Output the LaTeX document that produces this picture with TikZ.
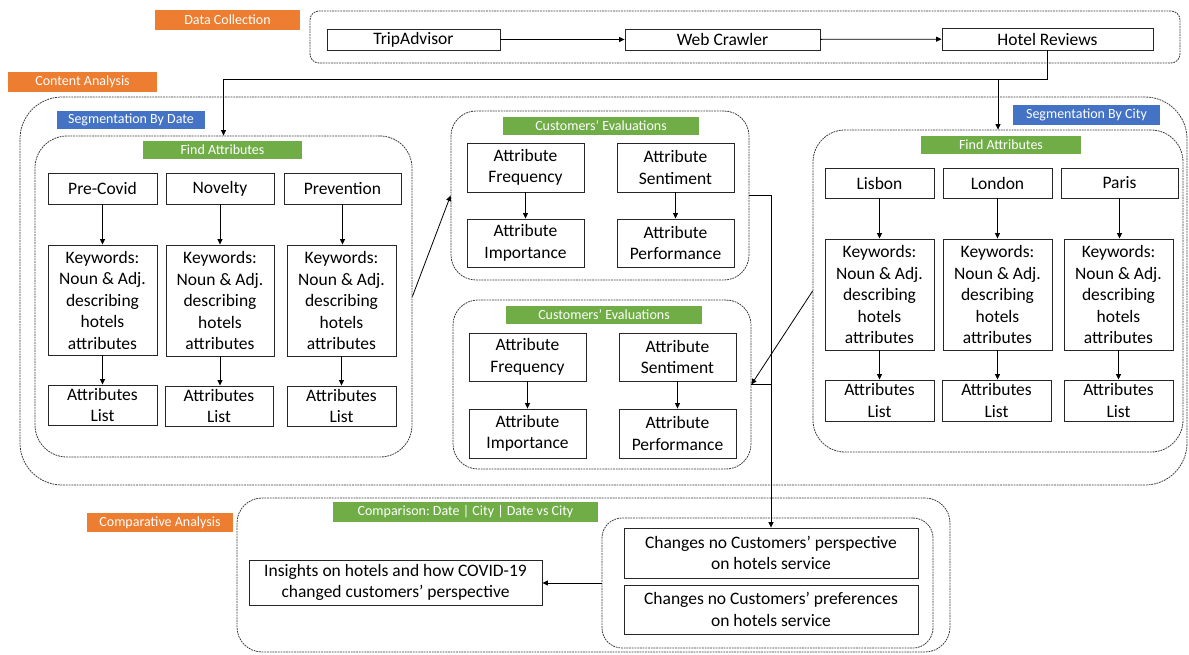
\documentclass[tikz,border=0pt]{standalone}
\usepackage{fontspec}
\setmainfont{Carlito}
\usetikzlibrary{arrows.meta}
\definecolor{orng}{HTML}{ED7D31}
\definecolor{blu}{HTML}{4472C4}
\definecolor{grn}{HTML}{70AD47}
\definecolor{dline}{HTML}{3A3A3A}
% style, name, x1, y1, x2, y2, text
\newcommand{\bx}[7]{%
  \node[#1, minimum width={#5-#3}, minimum height={#6-#4}] (#2) at ({(#3+#5)/2},{(#4+#6)/2}) {#7};}
\tikzset{
  box/.style={draw=black!85, line width=0.9pt, inner sep=0pt, align=center,
              font=\fontsize{17.5}{21.5}\selectfont},
  grp/.style={draw=dline, dash pattern=on 1.8pt off 0.9pt, line width=0.8pt, inner sep=0pt},
  lab/.style={inner sep=0pt, text=white, font=\fontsize{14}{16}\selectfont},
  arr/.style={-{Triangle[length=5.5pt,width=5pt]}, line width=0.8pt},
  con/.style={line width=0.8pt}
}
\begin{document}
\begin{tikzpicture}[x=1pt,y=-1pt]
\useasboundingbox (0,0) rectangle (1189,654);
% groups
\bx{grp,rounded corners=9}{gDC}{310}{11}{1180}{63}{}
\bx{grp,rounded corners=42}{gCA}{20}{97}{1187}{485}{}
\bx{grp,rounded corners=32}{lfa}{35}{136}{412}{457}{}
\bx{grp,rounded corners=25}{ce1}{451}{111}{749}{280}{}
\bx{grp,rounded corners=25}{ce2}{453}{300}{751}{469}{}
\bx{grp,rounded corners=32}{rfa}{813}{130}{1183}{452}{}
\bx{grp,rounded corners=25}{gCmp}{237}{498}{950}{652}{}
\bx{grp,rounded corners=20}{cmpin}{602}{518}{933}{648}{}
% labels
\bx{lab,fill=orng}{lDC}{155}{10}{300}{30}{Data Collection}
\bx{lab,fill=orng}{lCA}{8}{72}{157}{92}{Content Analysis}
\bx{lab,fill=orng}{lCmp}{87}{513}{233}{532}{Comparative Analysis}
\bx{lab,fill=blu}{lSD}{57}{111}{205}{129}{Segmentation By Date}
\bx{lab,fill=blu}{lSC}{1013}{105}{1160}{125}{Segmentation By City}
\bx{lab,fill=grn}{lFA1}{143}{141}{302}{159}{Find Attributes}
\bx{lab,fill=grn}{lFA2}{921}{136}{1081}{154}{Find Attributes}
\bx{lab,fill=grn}{lCE1}{503}{117}{699}{135}{Customers’ Evaluations}
\bx{lab,fill=grn}{lCE2}{506}{306}{702}{324}{Customers’ Evaluations}
\bx{lab,fill=grn}{lCmpG}{333}{502}{598}{522}{Comparison:\ Date | City | Date vs City}
% data collection
\bx{box}{trip}{327}{29}{500}{50}{TripAdvisor}
\bx{box}{web}{625}{29}{820}{50}{Web Crawler}
\bx{box}{hotel}{942}{28}{1153}{50}{Hotel Reviews}
% left column
\bx{box}{pc}{48}{173}{157}{204}{Pre-Covid}
\bx{box}{nov}{166}{173}{274}{204}{Novelty}
\bx{box}{prev}{284}{173}{401}{204}{Prevention}
\bx{box}{kw1}{48}{245}{157}{355}{Keywords:\\Noun \& Adj.\\describing\\hotels\\attributes}
\bx{box}{kw2}{166}{245}{274}{356}{Keywords:\\Noun \& Adj.\\describing\\hotels\\attributes}
\bx{box}{kw3}{287}{245}{396}{356}{Keywords:\\Noun \& Adj.\\describing\\hotels\\attributes}
\bx{box}{al1}{48}{385}{157}{425}{Attributes\\List}
\bx{box}{al2}{165}{386}{273}{426}{Attributes\\List}
\bx{box}{al3}{287}{386}{396}{426}{Attributes\\List}
% customers' evaluations
\bx{box}{f1}{467}{143}{584}{192}{Attribute\\Frequency}
\bx{box}{s1}{617}{143}{734}{192}{Attribute\\Sentiment}
\bx{box}{i1}{467}{219}{584}{267}{Attribute\\Importance}
\bx{box}{p1}{617}{219}{734}{267}{Attribute\\Performance}
\bx{box}{f2}{469}{333}{586}{381}{Attribute\\Frequency}
\bx{box}{s2}{619}{333}{736}{381}{Attribute\\Sentiment}
\bx{box}{i2}{469}{409}{586}{458}{Attribute\\Importance}
\bx{box}{p2}{619}{409}{736}{458}{Attribute\\Performance}
% right column
\bx{box}{lis}{825}{168}{934}{198}{Lisbon}
\bx{box}{lon}{943}{168}{1052}{198}{London}
\bx{box}{par}{1061}{168}{1178}{198}{Paris}
\bx{box}{kw4}{825}{239}{934}{350}{Keywords:\\Noun \& Adj.\\describing\\hotels\\attributes}
\bx{box}{kw5}{943}{239}{1052}{350}{Keywords:\\Noun \& Adj.\\describing\\hotels\\attributes}
\bx{box}{kw6}{1064}{239}{1173}{350}{Keywords:\\Noun \& Adj.\\describing\\hotels\\attributes}
\bx{box}{al4}{825}{380}{934}{421}{Attributes\\List}
\bx{box}{al5}{942}{380}{1051}{421}{Attributes\\List}
\bx{box}{al6}{1064}{380}{1173}{421}{Attributes\\List}
% comparative
\bx{box}{ins}{249}{560}{542}{605}{Insights on hotels and how COVID-19\\changed customers’ perspective}
\bx{box}{ch1}{624}{528}{918}{578}{Changes no Customers’ perspective\\on hotels service}
\bx{box}{ch2}{624}{585}{918}{634}{Changes no Customers’ preferences\\on hotels service}
% connectors
\draw[arr] (trip) -- (web);
\draw[arr] (web) -- (hotel);
\draw[arr] (hotel.south) -- ++(0,29) -| (lfa.north);
\draw[arr] (rfa.north |- hotel.south) ++(0,29) -- (rfa.north);
\foreach \a/\b in {pc/kw1,nov/kw2,prev/kw3,kw1/al1,kw2/al2,kw3/al3,lis/kw4,lon/kw5,par/kw6,kw4/al4,kw5/al5,kw6/al6,f1/i1,s1/p1,f2/i2,s2/p2}
  \draw[arr] (\a.south) -- (\a.south |- \b.north);
\draw[arr] (lfa.east) -- (ce1.west);
\draw[arr] (rfa.west) -- (ce2.east);
\draw[arr] (ce1.east) -| (ch1.north);
\draw[con] (ce2.east) -- (ce2.east -| ch1.north);
\draw[arr] (cmpin.west) -- (cmpin.west -| ins.east);
\end{tikzpicture}
\end{document}
